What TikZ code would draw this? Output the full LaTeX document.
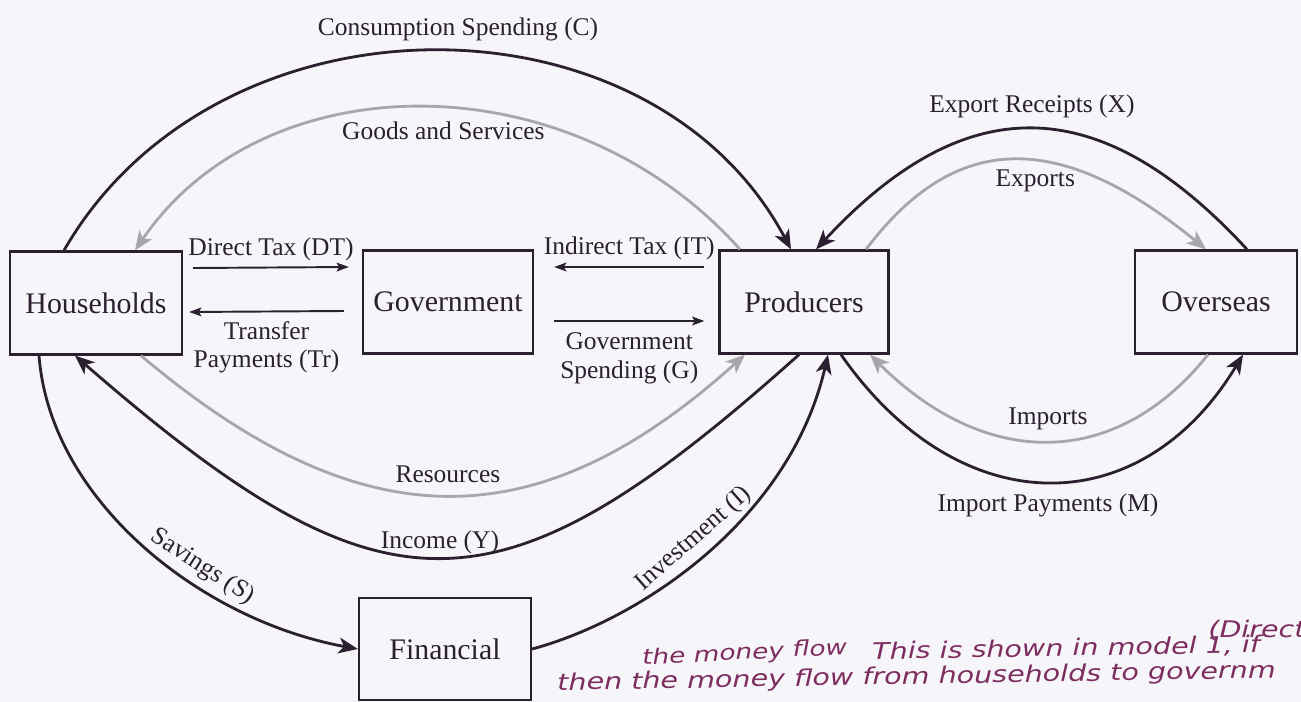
\documentclass[tikz,border=0pt]{standalone}
\usepackage{fontspec}
\setmainfont{Liberation Serif}
\newfontfamily\penfont[FakeStretch=1.25]{DejaVu Sans}
\usetikzlibrary{arrows.meta}

\definecolor{ink}{RGB}{42,32,48}
\definecolor{goodsgray}{RGB}{168,166,172}
\definecolor{paper}{RGB}{246,245,249}
\definecolor{pen}{RGB}{125,45,95}

\begin{document}
\begin{tikzpicture}[x=0.02cm, y=-0.02cm,
  box/.style={draw=ink, line width=1.3pt, minimum height=2.06cm, font=\fontsize{17}{20}\selectfont, text=ink},
  money/.style={draw=ink, line width=1.6pt, -{Stealth[length=11pt,width=9pt,inset=3pt]}},
  goods/.style={draw=goodsgray, line width=1.6pt, -{Stealth[length=11pt,width=9pt,inset=3pt]}},
  tax/.style={draw=ink, line width=1.1pt, -{Stealth[length=7pt,width=5pt,inset=1.5pt]}},
  lbl/.style={font=\fontsize{14.5}{16}\selectfont, text=ink},
  note/.style={font=\penfont\itshape\fontsize{13}{15}\selectfont, text=pen, inner sep=0pt}]

% Page
\useasboundingbox (0,0) rectangle (1301,702);
\fill[paper] (0,0) rectangle (1301,702);

% Sectors
\node[box, minimum width=3.44cm] (hh) at (96,303) {Households};
\node[box, minimum width=3.4cm] (gov) at (448,302) {Government};
\node[box, minimum width=3.38cm] (prod) at (804,302) {Producers};
\node[box, minimum width=3.24cm] (ovs) at (1216,302) {Overseas};
\node[box, minimum width=3.44cm, minimum height=2.04cm] (fin) at (445,649) {Financial};

% Taxes and transfers
\draw[tax] ([xshift=0.2cm,yshift=0.7cm]hh.east) -- ([xshift=-0.26cm,yshift=0.7cm]gov.west)
  node[lbl, midway, above] {Direct Tax (DT)};
\draw[tax] ([xshift=-0.36cm,yshift=-0.18cm]gov.west) -- ([xshift=0.12cm,yshift=-0.18cm]hh.east)
  node[lbl, midway, below=2pt, align=center] {Transfer\\Payments (Tr)};
\draw[tax] ([xshift=-0.28cm,yshift=0.7cm]prod.west) -- ([xshift=0.4cm,yshift=0.7cm]gov.east)
  node[lbl, midway, above] {Indirect Tax (IT)};
\draw[tax] ([xshift=0.4cm,yshift=-0.38cm]gov.east) -- ([xshift=-0.28cm,yshift=-0.38cm]prod.west)
  node[lbl, midway, below=3pt, align=center] {Government\\Spending (G)};

% Households and producers
\draw[money] ([xshift=-0.64cm]hh.north) .. controls (217,-15) and (650,-15) .. ([xshift=-0.26cm]prod.north)
  node[lbl, pos=0.53, above=2pt] {Consumption Spending (C)};
\draw[goods] ([xshift=-1.28cm]prod.north) .. controls (571,60) and (265,60) .. ([xshift=0.78cm]hh.north)
  node[lbl, pos=0.47, below=4pt] {Goods and Services};
\draw[goods] ([xshift=0.9cm]hh.south) .. controls (362,542) and (537,542) .. ([xshift=-1.18cm]prod.south)
  node[lbl, midway, above=3pt] {Resources};
\draw[money] ([xshift=-0.1cm]prod.south) .. controls (497,625) and (385,625) .. ([xshift=-0.42cm]hh.south)
  node[lbl, midway, above, inner sep=1pt] {Income (Y)};

% Producers and overseas
\draw[money] ([xshift=0.62cm]ovs.north) .. controls (1099,89) and (965,89) .. ([xshift=0.24cm]prod.north)
  node[lbl, midway, above=2pt] {Export Receipts (X)};
\draw[goods] ([xshift=1.24cm]prod.north) .. controls (956,130) and (1060,130) .. ([xshift=-0.2cm]ovs.north)
  node[lbl, pos=0.56, below=1pt] {Exports};
\draw[goods] ([xshift=-0.16cm]ovs.south) .. controls (1116,470) and (986,470) .. ([xshift=1.32cm]prod.south)
  node[lbl, midway, above=2pt] {Imports};
\draw[money] ([xshift=0.74cm]prod.south) .. controls (959,524) and (1141,524) .. ([xshift=0.54cm]ovs.south)
  node[lbl, midway, below=3pt] {Import Payments (M)};

% Savings and investment
\draw[money] ([xshift=-1.14cm]hh.south) .. controls (50,500) and (200,620) .. (fin.west)
  node[lbl, pos=0.63, above, sloped] {Savings (S)};
\draw[money] (fin.east) .. controls (640,620) and (790,520) .. ([xshift=0.48cm]prod.south)
  node[lbl, midway, above, sloped] {Investment (I)};

% Pencil notes
\node[note, anchor=west] (n1) at (1208,630) {(Direct};
\node[note, anchor=west, rotate=3, font=\penfont\itshape\fontsize{12}{14}\selectfont] (n2) at (642,659) {the money flow};
\node[note, anchor=west, rotate=1] (n3) at (872,652) {This is shown in model 1, if};
\node[note, anchor=west, rotate=1] (n4) at (557,684) {then the money flow from households to governm};
\end{tikzpicture}
\end{document}
